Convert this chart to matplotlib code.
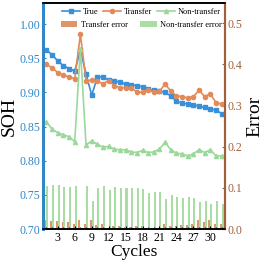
"""SOH prediction vs cycles with error bars on a twin axis."""

import matplotlib

matplotlib.use("Agg")

import matplotlib.pyplot as plt
import numpy as np
from matplotlib.ticker import FormatStrFormatter, MultipleLocator

plt.rcParams["font.family"] = ["Liberation Serif", "DejaVu Serif"]

cycles = np.arange(1, 33)

true_soh = [0.962, 0.955, 0.946, 0.939, 0.935, 0.931, 0.962, 0.927, 0.896, 0.922,
            0.923, 0.918, 0.917, 0.915, 0.912, 0.911, 0.910, 0.908, 0.905, 0.903,
            0.902, 0.900, 0.895, 0.887, 0.884, 0.883, 0.882, 0.880, 0.878, 0.876,
            0.874, 0.869]
transfer_soh = [0.941, 0.936, 0.929, 0.925, 0.923, 0.920, 0.985, 0.917, 0.918, 0.916,
                0.913, 0.917, 0.910, 0.907, 0.907, 0.906, 0.901, 0.900, 0.904, 0.901,
                0.902, 0.912, 0.902, 0.895, 0.894, 0.892, 0.894, 0.903, 0.894, 0.898,
                0.885, 0.883]
nontransfer_soh = [0.857, 0.846, 0.841, 0.838, 0.835, 0.828, 0.964, 0.823, 0.829, 0.824,
                   0.820, 0.821, 0.817, 0.816, 0.816, 0.813, 0.812, 0.815, 0.812, 0.813,
                   0.817, 0.827, 0.816, 0.811, 0.810, 0.807, 0.810, 0.816, 0.812, 0.816,
                   0.807, 0.807]
transfer_err = [0.022, 0.020, 0.020, 0.017, 0.016, 0.013, 0.023, 0.011, 0.023, 0.009,
                0.012, 0.003, 0.007, 0.007, 0.006, 0.005, 0.008, 0.007, 0.002, 0.003,
                0.002, 0.013, 0.007, 0.007, 0.010, 0.009, 0.012, 0.023, 0.016, 0.021,
                0.011, 0.013]
nontransfer_err = [0.105, 0.108, 0.107, 0.102, 0.102, 0.104, 0.002, 0.104, 0.069, 0.099,
                   0.105, 0.095, 0.101, 0.100, 0.099, 0.099, 0.099, 0.097, 0.087, 0.091,
                   0.089, 0.074, 0.083, 0.078, 0.075, 0.078, 0.075, 0.066, 0.067, 0.061,
                   0.069, 0.061]

C_TRUE = "#3a8fd9"
C_TR = "#e38a58"
C_NT = "#9ad99a"
C_LEFT = "#2f86c8"
C_RIGHT = "#a0603a"

fig = plt.figure(figsize=(2.66, 2.66), dpi=100)
ax = fig.add_axes([0.162, 0.139, 0.684, 0.85])
ax2 = ax.twinx()

w = 0.36
ax2.bar(cycles - 0.16, transfer_err, width=w, color="#e0946a", lw=0, label="Transfer error")
ax2.bar(cycles + 0.16, nontransfer_err, width=w, color="#a8dea4", lw=0, label="Non-transfer error")

ax.plot(cycles, true_soh, "-s", color=C_TRUE, lw=1.2, ms=3, label="True")
ax.plot(cycles, transfer_soh, "-o", color=C_TR, lw=1.2, ms=3, label="Transfer")
ax.plot(cycles, nontransfer_soh, "-^", color=C_NT, lw=1.2, ms=3, label="Non-transfer")

ax.set_zorder(ax2.get_zorder() + 1)
ax.patch.set_visible(False)

ax.set_xlim(0.4, 32.6)
ax.set_ylim(0.70, 1.031)
ax2.set_ylim(0.0, 0.549)
ax.xaxis.set_major_locator(MultipleLocator(3))
ax.xaxis.set_minor_locator(MultipleLocator(1))
ax.set_yticks([0.70, 0.75, 0.80, 0.85, 0.90, 0.95, 1.00])
ax.yaxis.set_major_formatter(FormatStrFormatter("%.2f"))
ax2.set_yticks([0.0, 0.1, 0.2, 0.3, 0.4, 0.5])
ax2.yaxis.set_major_formatter(FormatStrFormatter("%.1f"))

ax.tick_params(axis="x", direction="in", labelsize=8.5, length=2.5, pad=2)
ax.tick_params(axis="x", which="minor", direction="in", length=1.5)
ax.tick_params(axis="y", direction="in", labelsize=8.5, colors=C_LEFT, length=2.5, pad=2)
ax2.tick_params(axis="y", direction="in", labelsize=8.5, colors=C_RIGHT, length=2.5, pad=2)

for a in (ax, ax2):
    a.spines["left"].set_color(C_LEFT)
    a.spines["left"].set_linewidth(2)
    a.spines["right"].set_color(C_RIGHT)
    a.spines["right"].set_linewidth(1.5)
    a.spines["top"].set_linewidth(1.2)
    a.spines["bottom"].set_linewidth(1.2)

ax.set_xlabel("Cycles", fontsize=12.5, labelpad=0)
ax.set_ylabel("SOH", fontsize=14, labelpad=1)
ax2.set_ylabel("Error", fontsize=14, labelpad=3)

ax.legend(loc="upper center", bbox_to_anchor=(0.54, 1.01), ncol=3, frameon=False,
          fontsize=6, handlelength=2.2, columnspacing=0.6, handletextpad=0.3)
ax2.legend(loc="upper center", bbox_to_anchor=(0.54, 0.955), ncol=2, frameon=False,
           fontsize=6, handlelength=2.0, columnspacing=1.5, handletextpad=0.4)

fig.savefig("out.png", dpi=100)
